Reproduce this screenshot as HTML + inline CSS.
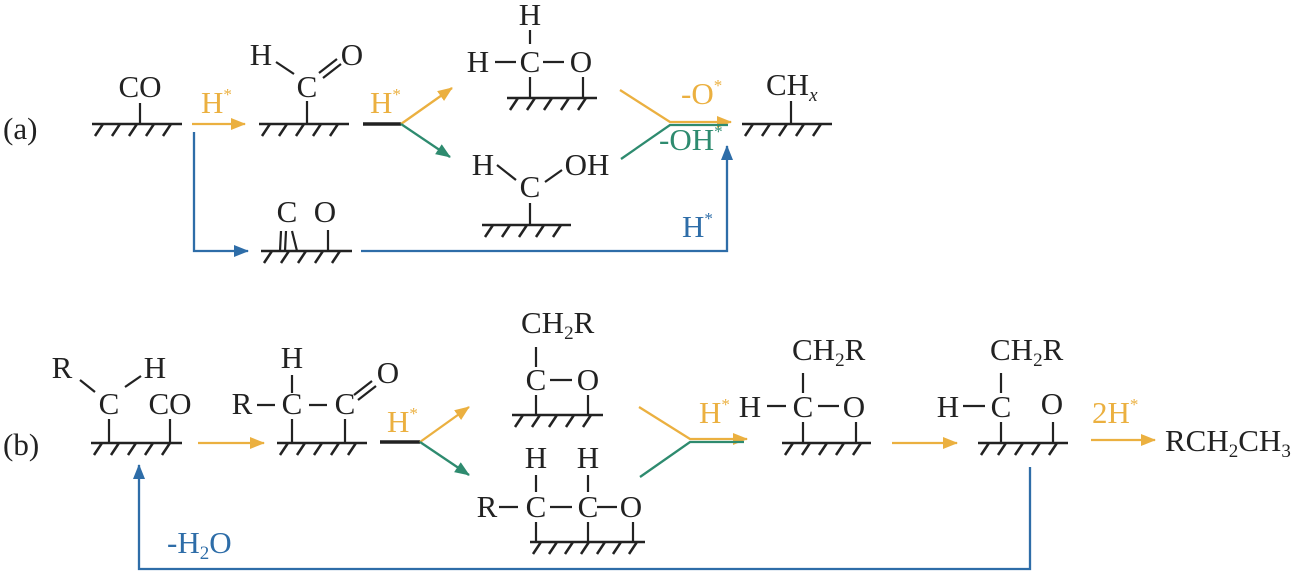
<!DOCTYPE html>
<html><head><meta charset="utf-8"><style>
html,body{margin:0;padding:0;background:#fff;}
svg{display:block;}
text{font-family:"Liberation Serif",serif;font-size:31px;fill:#222;}
.o{fill:#EBB040;} .g{fill:#2E8B6F;} .b{fill:#2E6DA8;}
.sup{font-size:17px;} .sub{font-size:19px;}
</style></head><body>
<svg width="1300" height="573" viewBox="0 0 1300 573" xmlns="http://www.w3.org/2000/svg">
<defs>
<marker id="ao" markerWidth="15" markerHeight="12" refX="14" refY="6" orient="auto" markerUnits="userSpaceOnUse"><path d="M0,0 L15,6 L0,12 z" fill="#EBB040"/></marker>
<marker id="ag" markerWidth="15" markerHeight="12" refX="14" refY="6" orient="auto" markerUnits="userSpaceOnUse"><path d="M0,0 L15,6 L0,12 z" fill="#2E8B6F"/></marker>
<marker id="ab" markerWidth="15" markerHeight="12" refX="14" refY="6" orient="auto" markerUnits="userSpaceOnUse"><path d="M0,0 L15,6 L0,12 z" fill="#2E6DA8"/></marker>
</defs>
<g stroke="#222" stroke-width="2.5" fill="none">
<path d="M92 124H182 M103 124l-8 12M120 124l-8 12M137 124l-8 12M154 124l-8 12M171 124l-8 12"/>
<path d="M259 124H349 M270 124l-8 12M287 124l-8 12M304 124l-8 12M321 124l-8 12M338 124l-8 12"/>
<path d="M507 98H597 M518 98l-8 12M535 98l-8 12M552 98l-8 12M569 98l-8 12M586 98l-8 12"/>
<path d="M482 225H571 M493 225l-8 12M510 225l-8 12M527 225l-8 12M544 225l-8 12M561 225l-8 12"/>
<path d="M261 251H352 M272 251l-8 12M289 251l-8 12M306 251l-8 12M323 251l-8 12M340 251l-8 12"/>
<path d="M742 124H832 M753 124l-8 12M770 124l-8 12M787 124l-8 12M804 124l-8 12M821 124l-8 12"/>
<path d="M91 443H182 M102 443l-8 12M119 443l-8 12M136 443l-8 12M153 443l-8 12M170 443l-8 12"/>
<path d="M277 443H367 M288 443l-8 12M305 443l-8 12M322 443l-8 12M339 443l-8 12M356 443l-8 12"/>
<path d="M512 415H603 M523 415l-8 12M540 415l-8 12M557 415l-8 12M574 415l-8 12M591 415l-8 12"/>
<path d="M530 542H645 M541 542l-8 12M557 542l-8 12M573 542l-8 12M589 542l-8 12M605 542l-8 12M621 542l-8 12M637 542l-8 12"/>
<path d="M782 443H871 M793 443l-8 12M810 443l-8 12M827 443l-8 12M844 443l-8 12M861 443l-8 12"/>
<path d="M978 443H1068 M989 443l-8 12M1006 443l-8 12M1023 443l-8 12M1040 443l-8 12M1057 443l-8 12"/>
</g>
<g stroke="#222" stroke-width="2.2" fill="none">
<path d="M140 103V124"/>
<path d="M307 101V124 M276 62L294 74 M319 73L337 59 M323 78L341 64"/>
<path d="M530 30V44 M495 62H516 M543 62H564 M530 77V98 M583 77V98"/>
<path d="M497 165L516 180 M545 182L562 170 M530 203V225"/>
<path d="M281 231L280 251 M286 231L285 251 M292 231L297 251 M328 230V251"/>
<path d="M791 101V124"/>
<path d="M109 419V443 M170 419V443 M80 380L95 392 M125 387L141 376"/>
<path d="M292 375V393 M257 405H275 M309 405H327 M292 419V443 M345 419V443 M354 395L372 381 M358 400L376 386"/>
<path d="M536 347V367 M550 380H572 M536 395V415 M588 395V415"/>
<path d="M536 475V492 M588 475V492 M499 507H518 M550 507H572 M597 507H617 M536 522V542 M588 522V542 M633 522V542"/>
<path d="M803 373V393 M767 406H786 M818 406H839 M803 422V443 M856 422V443"/>
<path d="M1001 373V393 M963 406H985 M1001 422V443 M1053 422V443"/>
</g>
<g stroke="#222" stroke-width="3.5"><path d="M363 124H401 M380 442H420"/></g>
<g stroke-width="2.3" fill="none">
<path d="M192 124H245" stroke="#EBB040" marker-end="url(#ao)"/>
<path d="M194 132V251H248" stroke="#2E6DA8" marker-end="url(#ab)"/>
<path d="M401 124L452 88" stroke="#EBB040" marker-end="url(#ao)"/>
<path d="M401 124L450 157" stroke="#2E8B6F" marker-end="url(#ag)"/>
<path d="M620 90L670 122H731" stroke="#EBB040" marker-end="url(#ao)"/>
<path d="M621 159L670 125H728" stroke="#2E8B6F"/>
<path d="M361 251H727V146" stroke="#2E6DA8" marker-end="url(#ab)"/>
<path d="M198 443H264" stroke="#EBB040" marker-end="url(#ao)"/>
<path d="M420 442L469 407" stroke="#EBB040" marker-end="url(#ao)"/>
<path d="M420 442L469 475" stroke="#2E8B6F" marker-end="url(#ag)"/>
<path d="M639 407L690 439H747" stroke="#EBB040" marker-end="url(#ao)"/>
<path d="M640 477L690 442H744" stroke="#2E8B6F"/>
<path d="M892 443H957" stroke="#EBB040" marker-end="url(#ao)"/>
<path d="M1091 440H1155" stroke="#EBB040" marker-end="url(#ao)"/>
<path d="M1030 467V569H139V465" stroke="#2E6DA8" marker-end="url(#ab)"/>
</g>
<text x="3" y="139">(a)</text>
<text x="140" y="97" text-anchor="middle">CO</text>
<text x="201" y="113" class="o">H<tspan class="sup" dy="-13">*</tspan></text>
<text x="261" y="65" text-anchor="middle">H</text>
<text x="307" y="97" text-anchor="middle">C</text>
<text x="352" y="65" text-anchor="middle">O</text>
<text x="370" y="113" class="o">H<tspan class="sup" dy="-13">*</tspan></text>
<text x="530" y="25" text-anchor="middle">H</text>
<text x="478" y="72" text-anchor="middle">H</text>
<text x="530" y="72" text-anchor="middle">C</text>
<text x="581" y="72" text-anchor="middle">O</text>
<text x="483" y="175" text-anchor="middle">H</text>
<text x="530" y="197" text-anchor="middle">C</text>
<text x="587" y="175" text-anchor="middle">OH</text>
<text x="287" y="222" text-anchor="middle">C</text>
<text x="325" y="222" text-anchor="middle">O</text>
<text x="681" y="104" class="o">-O<tspan class="sup" dy="-13">*</tspan></text>
<text x="659" y="150" class="g">-OH<tspan class="sup" dy="-13">*</tspan></text>
<text x="682" y="237" class="b">H<tspan class="sup" dy="-13">*</tspan></text>
<text x="766" y="95">CH<tspan class="sub" dy="6" font-style="italic">x</tspan></text>
<text x="3" y="455">(b)</text>
<text x="62" y="378" text-anchor="middle">R</text>
<text x="155" y="378" text-anchor="middle">H</text>
<text x="109" y="414" text-anchor="middle">C</text>
<text x="170" y="414" text-anchor="middle">CO</text>
<text x="292" y="368" text-anchor="middle">H</text>
<text x="242" y="414" text-anchor="middle">R</text>
<text x="292" y="414" text-anchor="middle">C</text>
<text x="345" y="414" text-anchor="middle">C</text>
<text x="388" y="383" text-anchor="middle">O</text>
<text x="387" y="432" class="o">H<tspan class="sup" dy="-13">*</tspan></text>
<text x="521" y="333">CH<tspan class="sub" dy="6">2</tspan><tspan dy="-6">R</tspan></text>
<text x="536" y="390" text-anchor="middle">C</text>
<text x="588" y="390" text-anchor="middle">O</text>
<text x="536" y="468" text-anchor="middle">H</text>
<text x="588" y="468" text-anchor="middle">H</text>
<text x="487" y="517" text-anchor="middle">R</text>
<text x="536" y="517" text-anchor="middle">C</text>
<text x="588" y="517" text-anchor="middle">C</text>
<text x="631" y="517" text-anchor="middle">O</text>
<text x="167" y="553" class="b">-H<tspan class="sub" dy="6">2</tspan><tspan dy="-6">O</tspan></text>
<text x="699" y="423" class="o">H<tspan class="sup" dy="-13">*</tspan></text>
<text x="792" y="360">CH<tspan class="sub" dy="6">2</tspan><tspan dy="-6">R</tspan></text>
<text x="750" y="417" text-anchor="middle">H</text>
<text x="803" y="417" text-anchor="middle">C</text>
<text x="854" y="417" text-anchor="middle">O</text>
<text x="990" y="360">CH<tspan class="sub" dy="6">2</tspan><tspan dy="-6">R</tspan></text>
<text x="948" y="417" text-anchor="middle">H</text>
<text x="1001" y="417" text-anchor="middle">C</text>
<text x="1052" y="414" text-anchor="middle">O</text>
<text x="1092" y="423" class="o">2H<tspan class="sup" dy="-13">*</tspan></text>
<text x="1165" y="451">RCH<tspan class="sub" dy="6">2</tspan><tspan dy="-6">CH</tspan><tspan class="sub" dy="6">3</tspan></text>
</svg>
</body></html>
